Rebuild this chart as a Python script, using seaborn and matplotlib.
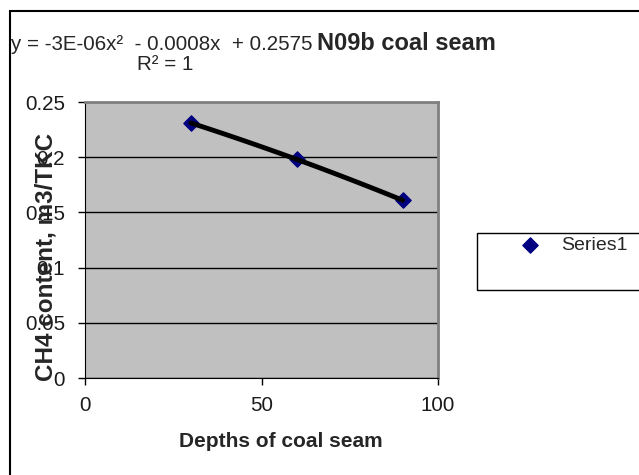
import numpy as np
import pandas as pd
import matplotlib
matplotlib.use('Agg')
import matplotlib.pyplot as plt
from matplotlib.patches import Rectangle
import seaborn as sns

# --- data ---
depths = [30, 60, 90]
ch4_content = [0.231, 0.198, 0.161]
series_name = 'Series1'
x_ticks = [0, 50, 100]
y_ticks = [0, 0.05, 0.1, 0.15, 0.2, 0.25]
y_tick_labels = ['0', '0.05', '0.1', '0.15', '0.2', '0.25']
equation_text = 'y = -3E-06x²  - 0.0008x  + 0.2575'
r2_text = 'R² = 1'
title_text = 'N09b coal seam'

df = pd.DataFrame({'depth': depths, 'ch4': ch4_content})

sns.set_style('ticks')
plt.rcParams['font.family'] = ['Liberation Sans', 'DejaVu Sans']

fig = plt.figure(figsize=(6.39, 4.75), dpi=100)
ax = fig.add_axes([85 / 639, 1 - 378 / 475, 353 / 639, 276 / 475])
ax.set_facecolor('#C0C0C0')

# quadratic trendline + points
sns.regplot(data=df, x='depth', y='ch4', order=2, ci=None, ax=ax,
            marker='D', label=series_name,
            scatter_kws={'color': '#000080', 's': 60, 'alpha': 1, 'zorder': 3},
            line_kws={'color': 'black', 'lw': 3.5, 'zorder': 4})

ax.set_xlim(0, 100)
ax.set_ylim(0, 0.25)
ax.set_xticks(x_ticks)
ax.set_yticks(y_ticks)
ax.set_yticklabels(y_tick_labels)
ax.tick_params(labelsize=14.8, length=5, width=1, color='black', labelcolor='#1a1a1a')
ax.tick_params(axis='y', pad=9.4)
ax.tick_params(axis='x', pad=8)
ax.yaxis.grid(True, color='black', lw=1)
ax.set_axisbelow(True)

for side in ['top', 'right']:
    ax.spines[side].set_visible(True)
    ax.spines[side].set_color('#808080')
    ax.spines[side].set_linewidth(2)
ax.spines['left'].set_color('black')
ax.spines['bottom'].set_color('black')

ax.set_xlabel('Depths of coal seam', fontsize=15, fontweight='bold')
ax.xaxis.set_label_coords(0.555, -0.196)
ax.set_ylabel('CH4 content, m3/TKC', fontsize=17.5, fontweight='bold')
ax.yaxis.set_label_coords(-0.079, 0.44)

fig.text(11 / 639, 1 - 44 / 475, equation_text, fontsize=14.8, va='center', ha='left')
fig.text(165 / 639, 1 - 65 / 475, r2_text, fontsize=14.8, va='center', ha='center')
fig.text(317 / 639, 1 - 44 / 475, title_text, fontsize=17, fontweight='bold',
         va='center', ha='left')

# legend box running off the right edge
fig.patches.append(Rectangle((477 / 639, 1 - 290 / 475), 0.4, 57 / 475,
                             transform=fig.transFigure, facecolor='white',
                             edgecolor='black', lw=1, clip_on=False))
fig.legend(*ax.get_legend_handles_labels(), loc='center left',
           bbox_to_anchor=(508 / 639, 1 - 245 / 475), frameon=False,
           fontsize=14, handletextpad=0.85, handlelength=1.5, borderaxespad=0)

# outer chart border
fig.patches.append(Rectangle((9.5 / 639, -0.2), 1.0, 1.2 - 10.5 / 475,
                             transform=fig.transFigure, facecolor='none',
                             edgecolor='black', lw=1.5, clip_on=False))

fig.savefig('out.png', dpi=100)
